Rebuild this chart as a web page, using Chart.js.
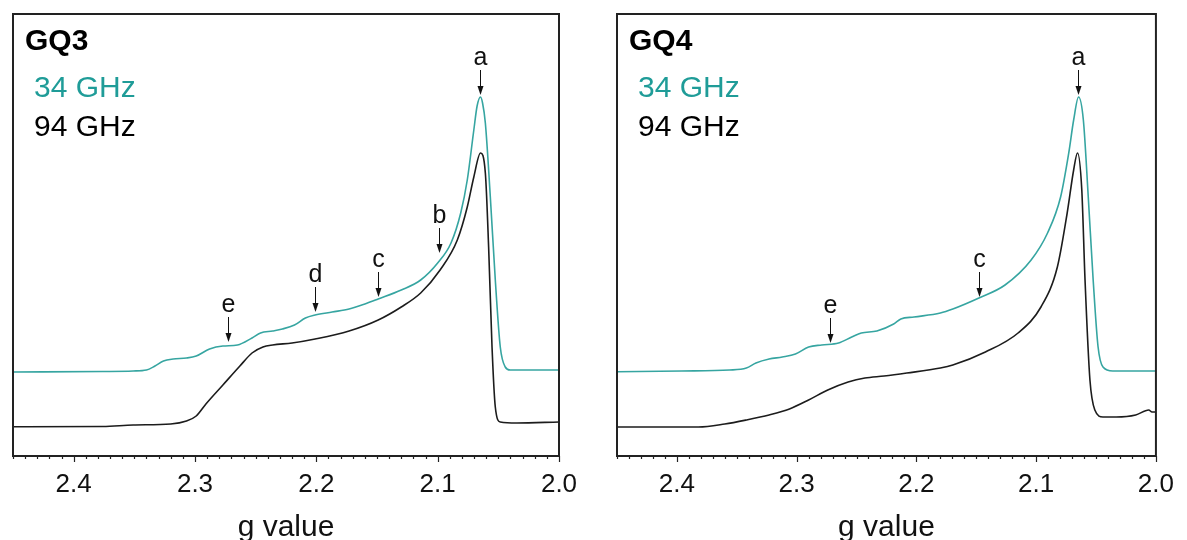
<!DOCTYPE html>
<html>
<head>
<meta charset="utf-8">
<script src="https://cdn.jsdelivr.net/npm/chart.js@4/dist/chart.umd.min.js"></script>
<style>
  body { margin: 0; background: #fff; width: 1187px; height: 540px; overflow: hidden; }
  .panel { position: absolute; top: 0; }
</style>
</head>
<body>
<div class="panel" style="left:0"><canvas id="c1" width="600" height="540"></canvas></div>
<div class="panel" style="left:600px"><canvas id="c2" width="587" height="540"></canvas></div>
<script>
/* DATA - g value (x) and intensity (arb. units) */
const gq3G34 = [2.450, 2.376, 2.351, 2.340, 2.333, 2.326, 2.318, 2.307, 2.299, 2.288, 2.277, 2.265, 2.253, 2.246, 2.236, 2.228, 2.218, 2.209, 2.201, 2.187, 2.173, 2.160, 2.149, 2.130, 2.114, 2.100, 2.089, 2.081, 2.0756, 2.0702, 2.0675, 2.0647, 2.063, 2.0607, 2.0566, 2.0525, 2.0484, 2.0443, 2.0402, 2.000];
const gq3I34 = [84, 84.5, 85, 86, 90, 95, 97, 98, 100, 107, 110, 111, 118, 123, 125, 127, 131, 138, 141, 144, 147, 152, 157, 166, 176, 193, 213, 243, 276, 326, 350, 359, 353, 333, 259, 176, 109, 89, 86, 86];

const gq3G94 = [2.450, 2.376, 2.351, 2.320, 2.307, 2.299, 2.291, 2.277, 2.263, 2.253, 2.244, 2.236, 2.220, 2.201, 2.173, 2.149, 2.130, 2.114, 2.098, 2.0838, 2.0756, 2.0702, 2.0647, 2.0607, 2.0580, 2.0552, 2.0525, 2.0484, 2.0348, 2.000];
const gq3I94 = [29.3, 29.5, 31, 32, 35, 40, 52, 71, 90, 103, 109, 111, 113, 117, 125, 136, 149, 163, 186, 216, 249, 279, 303, 283, 209, 109, 49, 34, 33, 34];

const gq4G34 = [2.450, 2.396, 2.356, 2.342, 2.334, 2.323, 2.312, 2.301, 2.290, 2.279, 2.265, 2.254, 2.246, 2.233, 2.219, 2.213, 2.202, 2.180, 2.1696, 2.1478, 2.1260, 2.1042, 2.0905, 2.0796, 2.0728, 2.0687, 2.0646, 2.0606, 2.0565, 2.0524, 2.0483, 2.0442, 2.0360, 2.000];
const gq4I34 = [84.3, 85, 86, 88, 93, 97, 99, 102, 109, 111, 113, 119, 123, 125, 132, 137, 139, 143, 147, 158, 171, 196, 223, 259, 303, 336, 359, 336, 259, 176, 109, 89, 85, 85];

const gq4G94 = [2.450, 2.382, 2.360, 2.342, 2.323, 2.306, 2.290, 2.274, 2.257, 2.243, 2.227, 2.208, 2.180, 2.1696, 2.1424, 2.1151, 2.0960, 2.0823, 2.0741, 2.0687, 2.0655, 2.0619, 2.0592, 2.0551, 2.0510, 2.0442, 2.0332, 2.0169, 2.0060, 2.0033, 2.000];
const gq4I94 = [29, 29, 32, 36, 41, 47, 56, 66, 74, 78, 80, 83, 88, 91, 104, 123, 149, 189, 243, 286, 303, 266, 176, 76, 46, 39, 39, 41, 46, 44, 44];

// arrow labels: letter, g position, intensity at arrow tip
const gq3Marks = ["a", "b", "c", "d", "e"];
const gq3MarkG = [2.065, 2.099, 2.149, 2.2015, 2.273];
const gq3MarkI = [361, 203, 159, 144, 114];
const gq4Marks = ["a", "c", "e"];
const gq4MarkG = [2.065, 2.148, 2.2725];
const gq4MarkI = [361, 159, 113];

const TEAL = "#36a5a1";
const TEAL_TXT = "#1f9c98";
const DARK = "#1c1c1c";
const FONT = "'Liberation Sans', Arial, sans-serif";

function pts(xs, ys) {
  return xs.map((x, i) => ({ x: x, y: ys[i] }));
}

/* frame, ticks, texts, arrows */
const decor = {
  id: "decor",
  afterDraw(chart, args, opts) {
    const ctx = chart.ctx;
    const a = chart.chartArea;
    const xs = chart.scales.x;
    const ys = chart.scales.y;
    ctx.save();

    // box
    ctx.strokeStyle = "#222";
    ctx.lineWidth = 2;
    ctx.strokeRect(a.left, a.top, a.right - a.left, a.bottom - a.top);

    // ticks on bottom axis
    ctx.lineWidth = 1.2;
    xs.ticks.forEach(t => {
      const px = Math.round(xs.getPixelForValue(t.value)) + 0.5;
      const major = Math.abs(t.value * 10 - Math.round(t.value * 10)) < 1e-6;
      ctx.beginPath();
      ctx.moveTo(px, a.bottom);
      ctx.lineTo(px, a.bottom + (major ? 6 : 3));
      ctx.stroke();
    });

    // sample name + frequencies
    ctx.textBaseline = "middle";
    ctx.textAlign = "left";
    ctx.fillStyle = "#000";
    ctx.font = "bold 30px " + FONT;
    ctx.fillText(opts.name, a.left + 12, 42);
    ctx.font = "30px " + FONT;
    ctx.fillStyle = TEAL_TXT;
    ctx.fillText("34 GHz", a.left + 21, 89);
    ctx.fillStyle = "#000";
    ctx.fillText("94 GHz", a.left + 21, 128);

    // arrows
    ctx.font = "25px " + FONT;
    ctx.textAlign = "center";
    ctx.fillStyle = "#111";
    ctx.strokeStyle = "#111";
    ctx.lineWidth = 1;
    opts.marks.forEach((m, i) => {
      const px = Math.round(xs.getPixelForValue(opts.markG[i])) + 0.5;
      const tip = ys.getPixelForValue(opts.markI[i]);
      ctx.fillText(m, px, tip - 37);
      ctx.beginPath();
      ctx.moveTo(px, tip - 25);
      ctx.lineTo(px, tip - 7);
      ctx.stroke();
      ctx.beginPath();
      ctx.moveTo(px - 3, tip - 9);
      ctx.lineTo(px + 3, tip - 9);
      ctx.lineTo(px, tip);
      ctx.closePath();
      ctx.fill();
    });
    ctx.restore();
  }
};

function makePanel(id, name, g34, i34, g94, i94, marks, markG, markI, padL, padR) {
  return new Chart(document.getElementById(id), {
    type: "line",
    data: {
      datasets: [
        { label: "34 GHz", data: pts(g34, i34), borderColor: TEAL, borderWidth: 1.6, pointRadius: 0, cubicInterpolationMode: "monotone", fill: false },
        { label: "94 GHz", data: pts(g94, i94), borderColor: DARK, borderWidth: 1.6, pointRadius: 0, cubicInterpolationMode: "monotone", fill: false }
      ]
    },
    options: {
      responsive: false,
      animation: false,
      layout: { padding: { left: padL, right: padR, top: 14, bottom: 0 } },
      plugins: {
        legend: { display: false },
        tooltip: { enabled: false },
        decor: { name: name, marks: marks, markG: markG, markI: markI }
      },
      scales: {
        x: {
          type: "linear",
          reverse: true,
          min: 2.0,
          max: 2.45,
          grid: { display: false, drawTicks: false },
          border: { display: false },
          ticks: {
            stepSize: 0.01,
            autoSkip: false,
            maxRotation: 0,
            padding: 13,
            color: "#111",
            font: { family: FONT, size: 26, lineHeight: 1.2 },
            callback: v => Math.abs(v * 10 - Math.round(v * 10)) < 1e-6 ? v.toFixed(1) : ""
          },
          title: {
            display: true,
            text: "g value",
            color: "#111",
            font: { family: FONT, size: 30, lineHeight: 1 },
            padding: { top: 0, bottom: -3 }
          },
          afterFit: s => { s.height = 84; }
        },
        y: {
          display: false,
          min: 0,
          max: 442
        }
      }
    },
    plugins: [decor]
  });
}

makePanel("c1", "GQ3", gq3G34, gq3I34, gq3G94, gq3I94, gq3Marks, gq3MarkG, gq3MarkI, 10, 41);
makePanel("c2", "GQ4", gq4G34, gq4I34, gq4G94, gq4I94, gq4Marks, gq4MarkG, gq4MarkI, 17, 20);
</script>
</body>
</html>
